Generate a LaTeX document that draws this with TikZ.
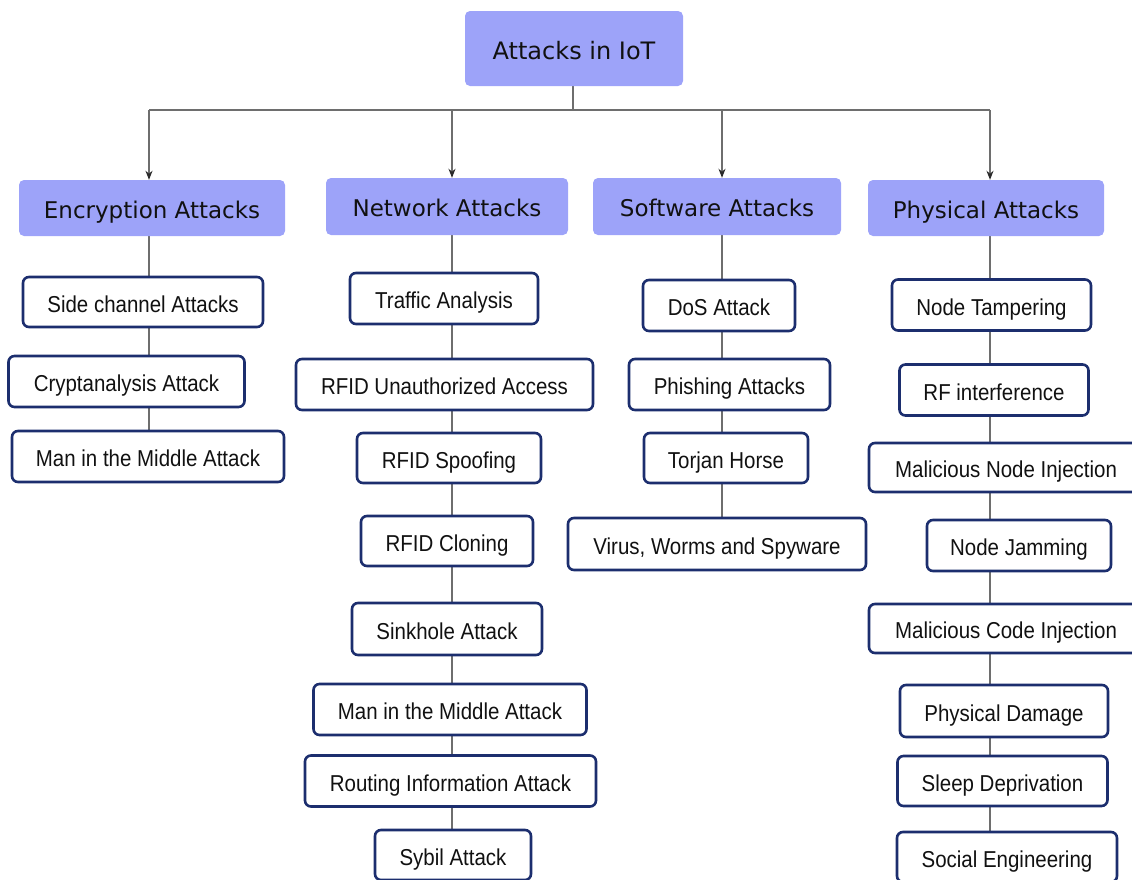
\documentclass[tikz,border=0pt]{standalone}
\usepackage{fontspec}
\usetikzlibrary{arrows.meta,backgrounds}
\newfontfamily\leaffont[FakeStretch=0.89]{Liberation Sans}
\newfontfamily\headfont{DejaVu Sans}
\definecolor{catfill}{HTML}{9DA3F9}
\definecolor{navy}{HTML}{1C2E6E}
\definecolor{wire}{HTML}{6E6E6E}
\definecolor{tip}{HTML}{2A2A2A}
\definecolor{ink}{HTML}{111111}
\tikzset{
  rootbox/.style={fill=catfill, draw=none, rounded corners=5pt, inner sep=0pt,
    text=ink, text height=21pt, text depth=0pt,
    font=\headfont\fontsize{24}{28}\selectfont},
  catbox/.style={fill=catfill, draw=none, rounded corners=5pt, inner sep=0pt,
    text=ink, text height=20pt, text depth=0pt,
    font=\headfont\fontsize{23}{27}\selectfont},
  leafbox/.style={fill=white, draw=navy, line width=2.6pt, rounded corners=6pt,
    inner sep=0pt, text=ink, text height=20pt, text depth=0pt,
    font=\leaffont\fontsize{23}{27}\selectfont},
  conn/.style={draw=wire, line width=1.3pt},
  arr/.style={conn, -{Stealth[length=9pt,width=7pt,color=tip]}},
}
% place a box: name, style, center x, center y, width, height, text
\newcommand\boxat[7]{%
  \node[#2, minimum width=#5, minimum height=#6] (#1) at (#3,#4) {#7};}
\begin{document}
\begin{tikzpicture}[x=1pt,y=-1pt]
\useasboundingbox (0,0) rectangle (1132,879);

% root and categories
\boxat{root}{rootbox}{574}{48.5}{218pt}{75pt}{Attacks in IoT}
\boxat{enc}{catbox}{152}{208}{266pt}{56pt}{Encryption Attacks}
\boxat{net}{catbox}{447}{206.5}{242pt}{57pt}{Network Attacks}
\boxat{soft}{catbox}{717}{206.5}{248pt}{57pt}{Software Attacks}
\boxat{phys}{catbox}{986}{208}{236pt}{56pt}{Physical Attacks}

% encryption attacks
\boxat{e1}{leafbox}{143}{302}{240pt}{50pt}{Side channel Attacks}
\boxat{e2}{leafbox}{126.5}{381.5}{236pt}{51pt}{Cryptanalysis Attack}
\boxat{e3}{leafbox}{148}{456.5}{272pt}{51pt}{Man in the Middle Attack}

% network attacks
\boxat{n1}{leafbox}{444}{298.5}{188pt}{51pt}{Traffic Analysis}
\boxat{n2}{leafbox}{444.5}{384.5}{297pt}{51pt}{RFID Unauthorized Access}
\boxat{n3}{leafbox}{449}{458}{184pt}{50pt}{RFID Spoofing}
\boxat{n4}{leafbox}{447}{541}{172pt}{50pt}{RFID Cloning}
\boxat{n5}{leafbox}{447}{629}{190pt}{52pt}{Sinkhole Attack}
\boxat{n6}{leafbox}{450}{709.5}{273pt}{51pt}{Man in the Middle Attack}
\boxat{n7}{leafbox}{450.5}{781}{291pt}{51pt}{Routing Information Attack}
\boxat{n8}{leafbox}{453}{855}{156pt}{50pt}{Sybil Attack}

% software attacks
\boxat{s1}{leafbox}{719}{305.5}{152pt}{51pt}{DoS Attack}
\boxat{s2}{leafbox}{729.5}{384.5}{201pt}{51pt}{Phishing Attacks}
\boxat{s3}{leafbox}{726}{458}{164pt}{50pt}{Torjan Horse}
\boxat{s4}{leafbox}{717}{544}{298pt}{52pt}{Virus, Worms and Spyware}

% physical attacks
\boxat{p1}{leafbox}{991.5}{305}{199pt}{51pt}{Node Tampering}
\boxat{p2}{leafbox}{994}{390}{189pt}{51pt}{RF interference}
\boxat{p3}{leafbox}{1006}{467.5}{274pt}{49pt}{Malicious Node Injection}
\boxat{p4}{leafbox}{1019}{545.5}{184pt}{51pt}{Node Jamming}
\boxat{p5}{leafbox}{1006}{628.5}{274pt}{49pt}{Malicious Code Injection}
\boxat{p6}{leafbox}{1004}{711}{208pt}{52pt}{Physical Damage}
\boxat{p7}{leafbox}{1002.5}{781}{210pt}{50pt}{Sleep Deprivation}
\boxat{p8}{leafbox}{1007}{857}{220pt}{50pt}{Social Engineering}

% column axes and the distribution bus
\coordinate (cx1) at (149,110);
\coordinate (cx2) at (452,110);
\coordinate (cx3) at (722,110);
\coordinate (cx4) at (990,110);

\begin{scope}[on background layer]
  \draw[conn] (root.south -| 573,0) -- (573,110);
  \draw[conn] (cx1) -- (cx4);
  \draw[arr] (cx1) -- (enc.north -| cx1);
  \draw[arr] (cx2) -- (net.north -| cx2);
  \draw[arr] (cx3) -- (soft.north -| cx3);
  \draw[arr] (cx4) -- (phys.north -| cx4);

  \foreach \a/\b in {enc/e1,e1/e2,e2/e3}
    \draw[conn] (\a.south -| cx1) -- (\b.north -| cx1);
  \foreach \a/\b in {net/n1,n1/n2,n2/n3,n3/n4,n4/n5,n5/n6,n6/n7,n7/n8}
    \draw[conn] (\a.south -| cx2) -- (\b.north -| cx2);
  \foreach \a/\b in {soft/s1,s1/s2,s2/s3,s3/s4}
    \draw[conn] (\a.south -| cx3) -- (\b.north -| cx3);
  \foreach \a/\b in {phys/p1,p1/p2,p2/p3,p3/p4,p4/p5,p5/p6,p6/p7,p7/p8}
    \draw[conn] (\a.south -| cx4) -- (\b.north -| cx4);
\end{scope}
\end{tikzpicture}
\end{document}
